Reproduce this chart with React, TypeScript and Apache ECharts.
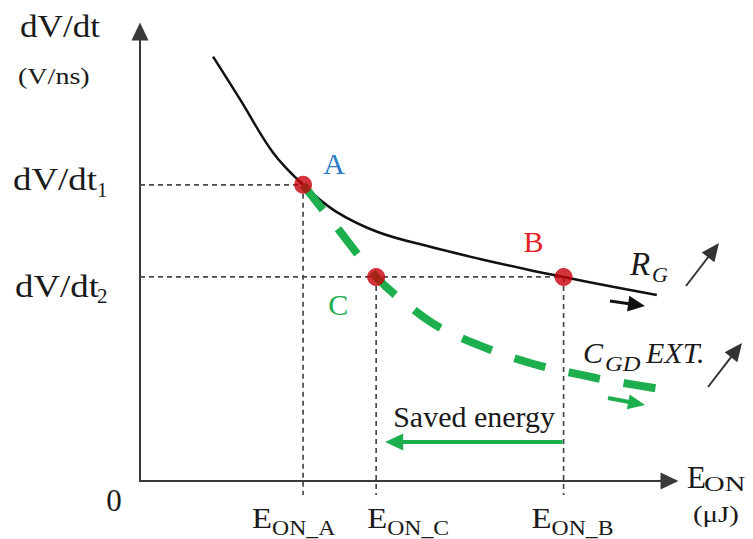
import React, { useEffect, useRef } from 'react';
import * as echarts from 'echarts';

// ---- Data (arbitrary conceptual units, 0..100 on both axes) ----
const X_MAX = 100;
const Y_MAX = 100;

// operating points
const E_ON_A = 30.8;
const E_ON_C = 44.6;
const E_ON_B = 80.0;
const DVDT_1 = 65.9;
const DVDT_2 = 45.4;

// R_G sweep curve (solid black)
const rgCurveX = [13.8, 18.9, 25.1, 30.8, 36.8, 44.9, 54.8, 64.2, 73.7, 80.0, 89.3, 97.6];
const rgCurveY = [94.4, 84.9, 73.1, 65.9, 60.1, 55.4, 52.1, 49.4, 46.9, 45.4, 43.2, 41.4];

// C_GD EXT. sweep curve (green dashed)
const cgdCurveX = [30.8, 37.6, 44.6, 50.1, 56.7, 66.2, 75.0, 81.3, 88.8, 99.2];
const cgdCurveY = [65.9, 55.8, 45.4, 39.6, 34.1, 29.2, 25.8, 24.1, 22.3, 20.3];

// tick labels
const yTickMain = ['dV/dt', 'dV/dt'];
const yTickSub = ['1', '2'];
const xTickMain = ['E', 'E', 'E'];
const xTickSub = ['ON_A', 'ON_C', 'ON_B'];
const pointNames = ['A', 'C', 'B'];

// level of the "Saved energy" arrow (data units)
const SAVED_LEVEL = 8.7;

const FONT = "'Liberation Serif', 'Times New Roman', serif";
const INK = '#1a1a1a';
const GREEN = '#1dae4e';
const RED_DOT = '#c8000a';
const BLUE = '#2b7bc6';
const RED_TXT = '#e31e24';

function zip(xs: number[], ys: number[]) {
  return xs.map((x, i) => [x, ys[i]]);
}

function txt(text: string, left: number, baseline: number, fs: number, opt: any = {}) {
  return {
    type: 'text',
    x: left,
    y: baseline - 0.3375 * fs,
    scaleX: opt.sx ?? 1,
    silent: true,
    z: 50,
    style: {
      text,
      x: 0,
      y: 0,
      fill: opt.color ?? INK,
      fontSize: fs,
      fontFamily: FONT,
      fontStyle: opt.italic ? 'italic' : 'normal',
      align: opt.align ?? 'left',
      verticalAlign: 'middle',
    },
  };
}

function arrow(x1: number, y1: number, x2: number, y2: number, color: string, lw: number, hl: number, hw: number) {
  const dx = x2 - x1;
  const dy = y2 - y1;
  const L = Math.hypot(dx, dy);
  const ux = dx / L;
  const uy = dy / L;
  const bx = x2 - ux * hl;
  const by = y2 - uy * hl;
  const nx = -uy;
  const ny = ux;
  return [
    { type: 'line', silent: true, z: 40, shape: { x1, y1, x2: bx + ux, y2: by + uy }, style: { stroke: color, lineWidth: lw } },
    {
      type: 'polygon',
      silent: true,
      z: 40,
      shape: { points: [[x2, y2], [bx + (nx * hw) / 2, by + (ny * hw) / 2], [bx - (nx * hw) / 2, by - (ny * hw) / 2]] },
      style: { fill: color },
    },
  ];
}

function buildOption() {
  const OVER_X = 3.4;
  const OVER_Y = 3.1;
  const refLine = (pts: number[][]) => ({
    type: 'line',
    data: pts,
    symbol: 'none',
    clip: false,
    silent: true,
    z: 1,
    lineStyle: { color: '#4a4a4a', width: 1.7, type: [5, 4] },
  });
  const axisCommon = {
    type: 'value',
    min: 0,
    axisLine: {
      show: true,
      symbol: ['none', 'triangle'],
      symbolSize: [17, 18],
      lineStyle: { color: '#3a3a3a', width: 2 },
    },
    axisTick: { show: false },
    axisLabel: { show: false },
    splitLine: { show: false },
  };
  return {
    animation: false,
    backgroundColor: '#ffffff',
    grid: { left: 140, right: 83.5, top: 31.5, bottom: 58 },
    xAxis: { ...axisCommon, max: X_MAX },
    yAxis: { ...axisCommon, max: Y_MAX },
    series: [
      refLine([[-OVER_X, DVDT_1], [E_ON_A, DVDT_1]]),
      refLine([[-OVER_X, DVDT_2], [E_ON_B, DVDT_2]]),
      refLine([[E_ON_A, DVDT_1], [E_ON_A, -OVER_Y]]),
      refLine([[E_ON_C, DVDT_2], [E_ON_C, -OVER_Y]]),
      refLine([[E_ON_B, DVDT_2], [E_ON_B, -OVER_Y]]),
      {
        type: 'line',
        data: zip(rgCurveX, rgCurveY),
        smooth: 0.35,
        symbol: 'none',
        silent: true,
        z: 3,
        lineStyle: { color: '#111', width: 2.5 },
      },
      {
        type: 'line',
        data: zip(cgdCurveX, cgdCurveY),
        smooth: 0.35,
        symbol: 'none',
        silent: true,
        z: 4,
        lineStyle: { color: GREEN, width: 8, type: [32, 24], cap: 'butt' },
      },
      {
        type: 'scatter',
        data: [[E_ON_A, DVDT_1], [E_ON_C, DVDT_2], [E_ON_B, DVDT_2]],
        symbolSize: 18,
        silent: true,
        z: 5,
        itemStyle: { color: RED_DOT },
      },
    ],
  };
}

function buildGraphics(chart: any) {
  const px = (x: number, y: number) => chart.convertToPixel({ gridIndex: 0 }, [x, y]) as number[];
  const O = px(0, 0);
  const A = px(E_ON_A, DVDT_1);
  const C = px(E_ON_C, DVDT_2);
  const B = px(E_ON_B, DVDT_2);
  const S1 = px(E_ON_B, SAVED_LEVEL);
  const S2 = px(E_ON_C, SAVED_LEVEL);

  const g: any[] = [];
  // y axis title
  g.push(txt('dV/dt', 20, 37, 32, { sx: 1.1 }));
  g.push(txt('(V/ns)', 18, 84, 24, { sx: 1.17 }));
  // y tick labels
  g.push(txt(yTickMain[0], O[0] - 127, A[1] + 5, 31, { sx: 1.19 }));
  g.push(txt(yTickSub[0], O[0] - 43, A[1] + 12, 21));
  g.push(txt(yTickMain[1], O[0] - 125, B[1] + 20, 31, { sx: 1.19 }));
  g.push(txt(yTickSub[1], O[0] - 43, B[1] + 26, 21));
  // origin
  g.push(txt('0', O[0] - 26, O[1] + 30, 31, { align: 'center' }));
  // x tick labels
  const xAnch = [A[0] - 51, C[0] - 9, B[0] - 32];
  xAnch.forEach((lx, i) => {
    g.push(txt(xTickMain[i], lx, O[1] + 47, 30, { sx: 1.09 }));
    g.push(txt(xTickSub[i], lx + 20, O[1] + 54, 21, { sx: 1.13 }));
  });
  // x axis title
  g.push(txt('E', O[0] + 547, O[1] + 7, 31));
  g.push(txt('ON', O[0] + 564, O[1] + 10, 22, { sx: 1.3 }));
  g.push(txt('(μJ)', O[0] + 553, O[1] + 41, 24, { sx: 1.2 }));
  // point labels
  g.push(txt(pointNames[0], A[0] + 31, A[1] - 21 + 0.3375 * 30, 30, { color: BLUE, align: 'center' }));
  g.push(txt(pointNames[1], C[0] - 38, C[1] + 28 + 0.3375 * 30, 30, { color: GREEN, align: 'center' }));
  g.push(txt(pointNames[2], B[0] - 30, B[1] - 35 + 0.3375 * 30, 30, { color: RED_TXT, align: 'center' }));
  // R_G annotation
  g.push(txt('R', 630, 275, 33, { italic: true }));
  g.push(txt('G', 652, 282, 22, { italic: true }));
  g.push(...arrow(610, 301, 645, 306, '#111', 3, 17, 16));
  g.push(...arrow(686, 286, 719, 243, '#333', 2, 18, 16));
  // C_GD EXT. annotation
  g.push(txt('C', 583, 363, 30, { italic: true }));
  g.push(txt('GD', 605, 371, 21, { italic: true, sx: 1.17 }));
  g.push(txt('EXT.', 646, 363, 30, { italic: true }));
  g.push(...arrow(708, 387, 742, 343, '#333', 2, 18, 16));
  g.push(...arrow(608, 398, 645, 405, GREEN, 4, 17, 15));
  // Saved energy
  g.push(...arrow(S1[0] - 1, S1[1], S2[0] + 9, S2[1], GREEN, 4, 18, 17));
  g.push(txt('Saved energy', C[0] + 17, S1[1] - 15, 30));
  return g;
}

export default function App() {
  const ref = useRef<HTMLDivElement>(null);
  useEffect(() => {
    document.body.style.margin = '0';
    const chart = echarts.init(ref.current!, null, { renderer: 'svg' });
    chart.setOption(buildOption() as any);
    chart.setOption({ graphic: buildGraphics(chart) } as any);
    return () => chart.dispose();
  }, []);
  return <div ref={ref} style={{ width: 753, height: 539 }} />;
}
